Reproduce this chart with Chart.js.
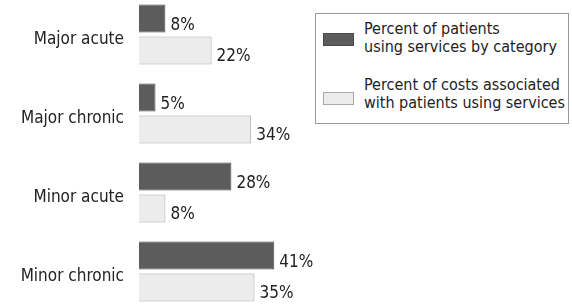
<!DOCTYPE html>
<html>
<head>
<meta charset="utf-8">
<script src="https://cdn.jsdelivr.net/npm/chart.js@4/dist/chart.umd.min.js"></script>
<style>
	body { margin: 0; background: #fff; }
	#wrap { position: relative; width: 572px; height: 306px; overflow: hidden; }
	#chart { position: absolute; left: 0; top: -5px; }
	#legend {
		position: absolute; left: 315px; top: 13px; width: 252px; height: 109px;
		border: 1px solid #9a9a9a; background: #fff;
		font-family: 'DejaVu Sans Condensed', 'Liberation Sans Narrow', sans-serif;
		font-size: 16px; line-height: 18px; color: #222;
	}
	.item { position: absolute; left: 7px; }
	.swatch { position: absolute; left: 0; width: 31px; height: 13px; box-sizing: border-box; }
	.txt { position: absolute; left: 41px; white-space: nowrap; }
</style>
</head>
<body>
<div id="wrap">
	<canvas id="chart" width="572" height="316"></canvas>
	<div id="legend">
		<div class="item" style="top:6px">
			<div class="swatch" style="top:13px;background:#5c5c5c;border:1px solid #4a4a4a"></div>
			<div class="txt">Percent of patients<br>using services by category</div>
		</div>
		<div class="item" style="top:62px">
			<div class="swatch" style="top:16px;background:#ececec;border:1px solid #a8a8a8"></div>
			<div class="txt">Percent of costs associated<br>with patients using services</div>
		</div>
	</div>
</div>
<script>
document.addEventListener('DOMContentLoaded', () => {
	const categories = ['Major acute', 'Major chronic', 'Minor acute', 'Minor chronic'];
	const patientsPct = [8, 5, 28, 41];
	const costsPct = [22, 34, 8, 35];

	const FONT = "'DejaVu Sans Condensed', 'Liberation Sans Narrow', sans-serif";

	// percent labels at the end of each bar
	const valueLabels = {
		id: 'valueLabels',
		afterDatasetsDraw(chart) {
			const ctx = chart.ctx;
			ctx.save();
			ctx.font = '17px ' + FONT;
			ctx.fillStyle = '#222';
			ctx.textAlign = 'left';
			ctx.textBaseline = 'alphabetic';
			chart.data.datasets.forEach((ds, i) => {
				chart.getDatasetMeta(i).data.forEach((bar, j) => {
					ctx.fillText(ds.data[j] + '%', bar.x + 5, bar.y + bar.height / 2 - 3);
				});
			});
			ctx.restore();
		}
	};

	new Chart(document.getElementById('chart'), {
		type: 'bar',
		data: {
			labels: categories,
			datasets: [{
				label: 'Percent of patients using services by category',
				data: patientsPct,
				backgroundColor: '#5c5c5c',
				borderColor: '#4a4a4a',
				borderWidth: 1,
				categoryPercentage: 0.81,
				barPercentage: 0.875
			}, {
				label: 'Percent of costs associated with patients using services',
				data: costsPct,
				backgroundColor: '#ececec',
				borderColor: '#a8a8a8',
				borderWidth: 1,
				categoryPercentage: 0.81,
				barPercentage: 0.875
			}]
		},
		options: {
			indexAxis: 'y',
			responsive: false,
			devicePixelRatio: 1,
			animation: false,
			layout: { padding: { left: 0, right: 103, top: 0, bottom: 0 } },
			plugins: { legend: { display: false }, tooltip: { enabled: false } },
			scales: {
				x: { display: false, min: 0, max: 100 },
				y: {
					grid: { display: false },
					border: { display: false },
					afterFit(scale) {
						scale.width = 139;
						scale.paddingTop = 0;
						scale.paddingBottom = 0;
					},
					ticks: { color: '#222', padding: 7, labelOffset: 5, font: { family: FONT, size: 17 } }
				}
			}
		},
		plugins: [valueLabels]
	});
});
</script>
</body>
</html>
